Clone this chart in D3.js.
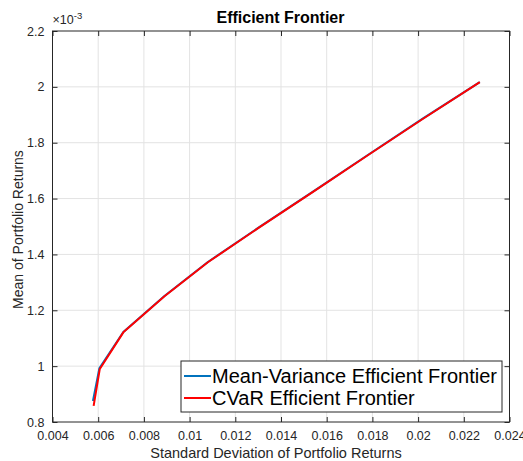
<!DOCTYPE html>
<html>
<head>
<meta charset="utf-8">
<script src="https://cdn.jsdelivr.net/npm/d3@7"></script>
<style>
  body { margin: 0; background: #fff; }
  text { font-family: "Liberation Sans", Arial, Helvetica, sans-serif; fill: #262626; }
</style>
</head>
<body>
<svg id="chart"></svg>
<script>
// risk (std dev) and mean return (x1e-3)
const mvRisk   = [0.00577, 0.00605, 0.0071, 0.0089, 0.0108, 0.0130, 0.0154, 0.0178, 0.0202, 0.0227];
const mvMean   = [0.875, 0.992, 1.122, 1.251, 1.373, 1.495, 1.625, 1.756, 1.886, 2.017];
const cvarRisk = [0.00580, 0.00607, 0.0071, 0.0089, 0.0108, 0.0130, 0.0154, 0.0178, 0.0202, 0.0227];
const cvarMean = [0.858, 0.990, 1.121, 1.250, 1.372, 1.494, 1.624, 1.755, 1.885, 2.017];
const xTicks = [0.004, 0.006, 0.008, 0.01, 0.012, 0.014, 0.016, 0.018, 0.02, 0.022, 0.024];
const yTicks = [0.8, 1, 1.2, 1.4, 1.6, 1.8, 2, 2.2];
const seriesNames = ['Mean-Variance Efficient Frontier', 'CVaR Efficient Frontier'];
const seriesColors = ['#0072BD', '#FF0000'];

const width = 523, height = 461;
const mLeft = 52.5, mRight = 509.5, mTop = 31, mBottom = 422;

const svg = d3.select('#chart')
  .attr('width', width)
  .attr('height', height)
  .attr('viewBox', `0 0 ${width} ${height}`);

const x = d3.scaleLinear().domain([0.004, 0.024]).range([mLeft, mRight]);
const y = d3.scaleLinear().domain([0.8, 2.2]).range([mBottom, mTop]);

// grid
svg.append('g').selectAll('line')
  .data(xTicks.slice(1, -1))
  .enter().append('line')
    .attr('x1', d => x(d)).attr('x2', d => x(d))
    .attr('y1', mTop).attr('y2', mBottom)
    .style('stroke', '#e3e3e3').style('stroke-width', 1);
svg.append('g').selectAll('line')
  .data(yTicks.slice(1, -1))
  .enter().append('line')
    .attr('y1', d => y(d)).attr('y2', d => y(d))
    .attr('x1', mLeft).attr('x2', mRight)
    .style('stroke', '#e3e3e3').style('stroke-width', 1);

// axes with inward ticks
const fmtX = d => String(+d.toFixed(3));
const axisStyle = g => {
  g.select('.domain').remove();
  g.selectAll('.tick line').style('stroke', '#262626');
  g.selectAll('.tick text').style('font-size', '12.5px').style('fill', '#262626')
    .style('font-family', '"Liberation Sans", Arial, sans-serif');
};
svg.append('g').attr('transform', `translate(0,${mBottom})`)
  .call(d3.axisBottom(x).tickValues(xTicks).tickSize(-5).tickPadding(9).tickFormat(fmtX))
  .call(axisStyle);
svg.append('g').attr('transform', `translate(0,${mTop})`)
  .call(d3.axisTop(x).tickValues(xTicks).tickSize(-5).tickFormat(''))
  .call(axisStyle);
svg.append('g').attr('transform', `translate(${mLeft},0)`)
  .call(d3.axisLeft(y).tickValues(yTicks).tickSize(-5).tickPadding(8).tickFormat(d => String(+d.toFixed(1))))
  .call(axisStyle);
svg.append('g').attr('transform', `translate(${mRight},0)`)
  .call(d3.axisRight(y).tickValues(yTicks).tickSize(-5).tickFormat(''))
  .call(axisStyle);

svg.append('rect')
  .attr('x', mLeft).attr('y', mTop)
  .attr('width', mRight - mLeft).attr('height', mBottom - mTop)
  .style('fill', 'none').style('stroke', '#262626').style('stroke-width', 1);

// lines
const line = d3.line().x(d => x(d[0])).y(d => y(d[1]));
const series = [
  d3.zip(mvRisk, mvMean),
  d3.zip(cvarRisk, cvarMean)
];
svg.append('g').selectAll('path')
  .data(series)
  .enter().append('path')
    .attr('d', line)
    .style('fill', 'none')
    .style('stroke', (_, i) => seriesColors[i])
    .style('stroke-width', 2)
    .style('stroke-linejoin', 'round');

// exponent label
const expo = svg.append('text')
  .attr('x', mLeft).attr('y', 24)
  .style('font-size', '12.5px');
expo.append('tspan').text('\u00d710');
expo.append('tspan').attr('dy', -5).style('font-size', '9.5px').text('-3');

// title and axis labels
svg.append('text')
  .attr('x', (mLeft + mRight) / 2 - 0.5).attr('y', 23)
  .attr('text-anchor', 'middle')
  .style('font-size', '16px').style('font-weight', 'bold').style('fill', '#000')
  .text('Efficient Frontier');
svg.append('text')
  .attr('x', 276).attr('y', 458)
  .attr('text-anchor', 'middle')
  .style('font-size', '14.5px')
  .text('Standard Deviation of Portfolio Returns');
svg.append('text')
  .attr('transform', `translate(23,229.5) rotate(-90)`)
  .attr('text-anchor', 'middle')
  .style('font-size', '14px')
  .text('Mean of Portfolio Returns');

// legend
const lg = svg.append('g').attr('transform', 'translate(181,361)');
lg.append('rect')
  .attr('width', 321).attr('height', 51)
  .style('fill', '#fff').style('stroke', '#262626').style('stroke-width', 1);
const item = lg.selectAll('g.item')
  .data(seriesNames)
  .enter().append('g')
    .attr('class', 'item')
    .attr('transform', (_, i) => `translate(0,${15 + i * 22})`);
item.append('line')
  .attr('x1', 3).attr('x2', 30)
  .style('stroke', (_, i) => seriesColors[i]).style('stroke-width', 2);
item.append('text')
  .attr('x', 31).attr('dy', '0.35em')
  .style('font-size', '20px').style('fill', '#000')
  .text(d => d);
</script>
</body>
</html>
